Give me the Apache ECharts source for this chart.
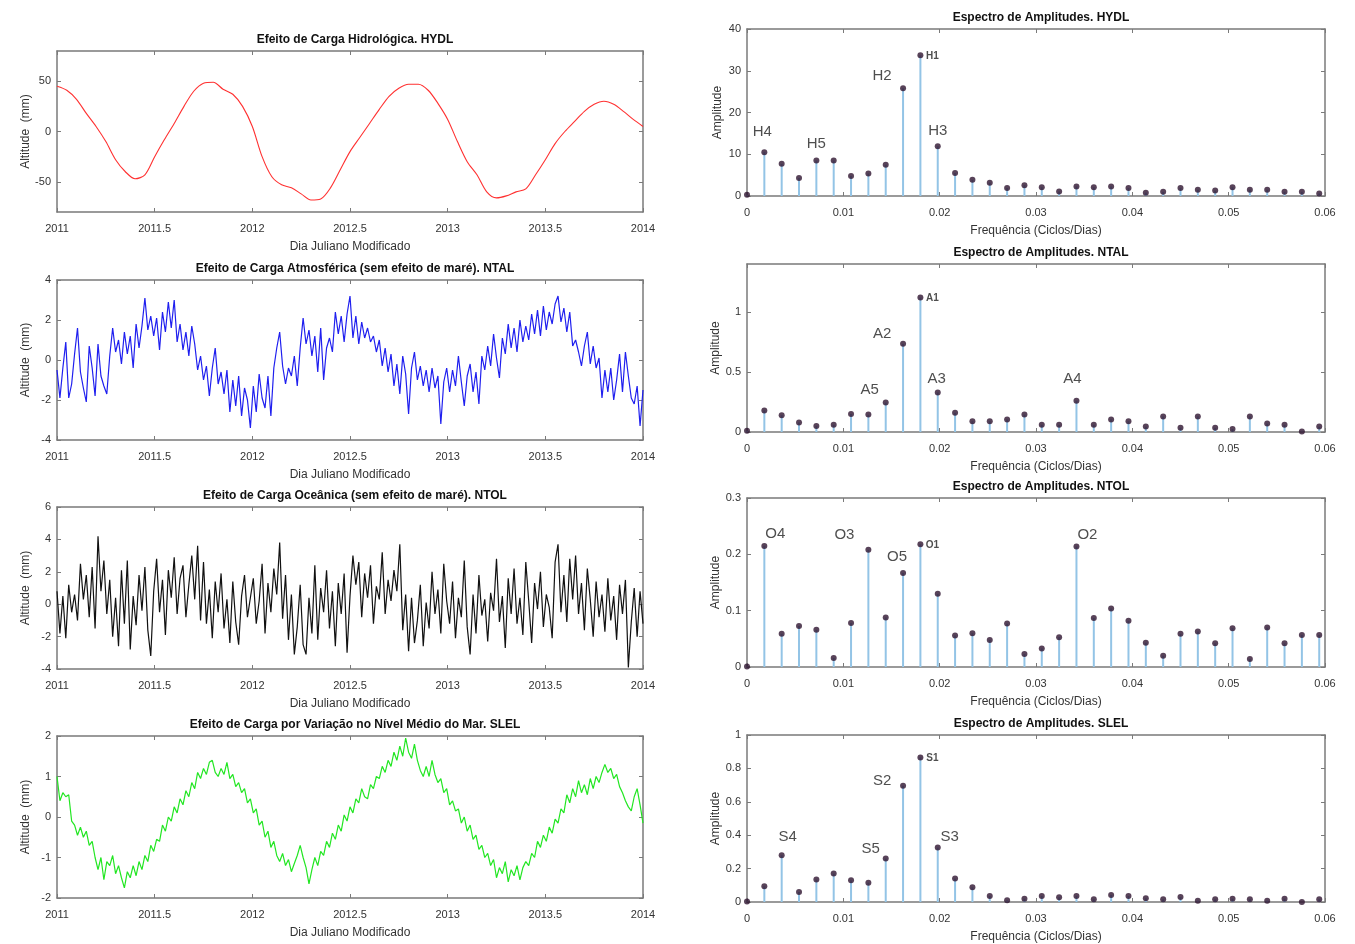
<!DOCTYPE html>
<html><head><meta charset="utf-8">
<script src="https://cdn.jsdelivr.net/npm/echarts@6/dist/echarts.min.js"></script>
<style>html,body{margin:0;padding:0;background:#fff}#c{width:1355px;height:944px}</style>
</head><body><div id="c"></div>
<script>
// ---------------- DATA ----------------
const leftTitles = ['Efeito de Carga Hidrológica. HYDL',
  'Efeito de Carga Atmosférica (sem efeito de maré). NTAL',
  'Efeito de Carga Oceânica (sem efeito de maré). NTOL',
  'Efeito de Carga por Variação no Nível Médio do Mar. SLEL'];
const rightTitles = ['Espectro de Amplitudes. HYDL','Espectro de Amplitudes. NTAL',
  'Espectro de Amplitudes. NTOL','Espectro de Amplitudes. SLEL'];
const yearTicks = [2011, 2011.5, 2012, 2012.5, 2013, 2013.5, 2014];

// time series: start year and sampling step
const hydlStart = 2011, hydlStep = 0.05;
const hydl = [45,41,32,18,5,-10,-28,-40,-47,-43,-25,-8,8,25,40,48,49,42,37,25,
  5,-25,-45,-53,-56,-62,-68,-67,-56,-38,-20,-6,8,22,35,43,47,47,41,28,
  12,-10,-30,-43,-60,-66,-64,-60,-57,-43,-28,-12,0,10,20,27,30,27,20,12,5];

const tsStart = 2011, tsStep = 0.015;
const ntal = [
-0.5,-1.9,-0.4,0.9,-1.9,-1.2,0.3,1.6,-0.6,-1.4,
-2.1,0.7,-0.4,-1.8,0.8,-0.8,-1.3,-1.7,0.2,1.6,
0.4,1.0,-0.2,1.4,0.3,1.2,-0.4,1.8,0.6,1.7,
3.1,1.5,2.2,1.2,2.1,0.5,2.4,1.4,2.9,1.6,
3.0,0.9,1.8,0.5,1.4,0.2,1.7,0.8,-0.5,0.2,
-1.0,-0.3,-1.8,-0.4,0.6,-1.2,-0.6,-1.7,-0.5,-2.6,
-1.0,-2.3,-0.8,-2.8,-1.4,-2.0,-3.4,-1.3,-2.6,-0.7,
-1.9,-2.4,-0.8,-2.8,-0.4,0.6,1.4,-0.3,-1.2,-0.4,
-0.8,0.2,-1.3,0.6,2.1,0.8,1.5,0.2,1.2,-0.6,
1.6,-1.0,0.6,1.1,0.4,2.4,1.3,2.2,0.9,2.3,
3.2,1.1,2.2,0.8,1.9,1.1,1.6,0.9,1.2,0.4,
1.0,-0.3,0.6,-0.6,0.3,-1.3,-0.2,-1.7,0.2,-0.7,
-2.7,-0.4,0.4,-1.0,-0.3,-1.3,-0.5,-1.6,-0.4,-1.4,
-0.8,-3.2,-1.1,-0.4,-1.6,-0.5,-1.3,0.2,-1.1,-2.3,
-0.8,-0.2,-1.6,-0.6,-2.2,0.2,-0.5,0.7,-0.3,1.3,
0.1,-0.9,1.1,0.3,1.8,0.6,1.6,0.4,2.0,0.9,
1.7,1.0,2.3,1.3,2.5,1.2,2.7,1.5,2.4,1.8,
2.8,3.2,1.9,2.6,1.4,2.4,0.7,1.0,0.4,-0.3,
0.7,1.4,-0.2,0.7,-0.4,0.1,-1.9,-0.5,-1.6,-0.4,
-2.0,-1.0,0.3,-1.6,0.4,-0.8,-1.9,-2.2,-1.3,-3.3,
-1.5];
const ntol = [
0.8,-1.8,0.5,-2.1,1.2,-0.5,0.6,-1.0,2.5,0.3,
1.8,-0.8,2.3,-1.5,4.2,0.8,2.7,-0.6,1.5,-2.0,
0.4,-2.6,2.1,-1.2,2.7,-2.8,0.5,-1.3,1.8,-0.4,
2.3,-1.6,-3.2,0.8,2.8,-0.5,1.5,-1.9,2.1,0.4,
2.9,-0.6,1.6,2.4,-0.8,1.2,3.0,0.3,3.6,-1.0,
2.6,-1.2,0.9,-2.1,1.4,-0.5,1.9,-1.5,0.3,-2.4,
1.4,-1.1,-2.5,0.5,1.8,-0.8,0.4,1.6,-1.2,0.2,
2.5,-1.8,1.3,-0.5,2.2,0.6,3.8,-0.9,1.8,-2.2,
0.6,-3.1,-1.4,1.2,-2.5,-3.1,0.4,-1.8,2.4,-2.2,
1.0,-0.5,2.1,-1.5,0.8,-2.6,1.3,-0.6,1.9,-3.0,
0.5,3.0,1.2,2.6,-0.8,1.9,0.4,2.4,-1.2,1.1,
0.3,3.2,-0.6,1.5,0.2,2.1,0.8,3.7,-1.6,0.6,
-2.9,0.4,-2.4,-1.0,1.2,-2.6,0.1,-1.5,2.0,-0.6,
0.9,-1.8,2.5,0.2,-1.2,1.4,-2.1,0.4,-0.8,2.7,
-1.4,-3.1,0.6,-1.8,1.8,-0.7,0.3,-2.3,0.7,-0.4,
2.8,-1.1,0.5,-2.7,1.6,-0.6,2.2,-1.2,0.4,-1.9,
2.6,0.2,-2.4,1.3,-0.3,2.0,-1.4,0.6,-0.2,-2.1,
2.6,3.7,-0.5,1.8,-1.1,2.8,0.3,3.0,-0.6,1.3,
-1.6,2.2,0.3,-2.0,1.4,-0.8,0.6,-1.7,1.6,-1.0,
0.5,-2.2,1.2,-0.6,1.5,-3.9,-1.1,1.0,-2.0,0.8,
-1.2];
const slel = [
1.0,0.4,0.6,0.5,0.55,-0.1,-0.2,-0.45,-0.25,-0.5,
-0.35,-0.7,-0.6,-1.0,-1.3,-1.0,-1.55,-1.1,-1.2,-0.95,
-1.4,-1.2,-1.5,-1.75,-1.35,-1.5,-1.2,-1.45,-1.1,-1.3,
-0.95,-1.1,-0.7,-0.85,-0.55,-0.6,-0.2,-0.35,0.0,-0.1,
0.25,0.1,0.45,0.3,0.65,0.5,0.85,0.7,1.1,0.95,
1.2,1.05,1.35,1.4,1.1,1.0,1.2,1.05,1.35,0.95,
1.05,0.75,0.85,0.6,0.7,0.35,0.45,0.1,0.2,-0.2,
-0.1,-0.5,-0.35,-0.75,-0.6,-0.95,-1.1,-0.9,-1.2,-1.05,
-1.35,-1.15,-0.95,-0.7,-1.0,-1.25,-1.65,-1.3,-1.0,-1.2,
-0.85,-0.95,-0.6,-0.75,-0.4,-0.55,-0.2,-0.35,0.05,-0.1,
0.25,0.1,0.45,0.35,0.7,0.5,0.45,0.8,0.7,1.0,
0.95,1.25,1.1,1.4,1.25,1.6,1.4,1.75,1.5,1.95,
1.6,1.45,1.8,1.4,1.15,1.0,1.25,1.0,1.4,1.05,
0.85,0.95,0.6,0.7,0.3,0.4,0.15,0.2,-0.15,0.0,
-0.35,-0.2,-0.55,-0.45,-0.8,-0.7,-1.0,-0.9,-1.2,-1.05,
-1.5,-1.25,-1.4,-1.1,-1.6,-1.3,-1.45,-1.2,-1.55,-1.25,
-1.1,-1.2,-0.9,-1.0,-0.6,-0.75,-0.45,-0.6,-0.25,-0.4,
-0.05,-0.15,0.2,0.1,0.55,0.35,0.7,0.5,0.9,0.6,
0.8,0.55,0.95,0.7,1.0,0.85,1.1,1.3,1.1,1.2,
0.95,1.05,0.75,0.6,0.4,0.25,0.15,0.5,0.7,0.3,
-0.15];

// spectra
const freqs = [0,0.0018,0.0036,0.0054,0.0072,0.009,0.0108,0.0126,0.0144,0.0162,0.018,0.0198,
  0.0216,0.0234,0.0252,0.027,0.0288,0.0306,0.0324,0.0342,0.036,0.0378,0.0396,0.0414,
  0.0432,0.045,0.0468,0.0486,0.0504,0.0522,0.054,0.0558,0.0576,0.0594];
const ampHydl = [0.3,10.5,7.7,4.3,8.5,8.5,4.8,5.4,7.5,25.8,33.7,11.9,5.5,3.9,3.2,1.9,2.6,2.1,1.1,2.3,
  2.1,2.3,1.9,0.8,1.0,1.9,1.5,1.3,2.1,1.5,1.5,1.0,1.0,0.6];
const ampNtal = [0.01,0.18,0.14,0.08,0.05,0.06,0.15,0.145,0.245,0.735,1.12,0.33,0.16,0.09,0.09,0.105,
  0.145,0.06,0.06,0.26,0.06,0.105,0.09,0.045,0.13,0.035,0.13,0.035,0.025,0.13,0.07,0.06,0.005,0.045];
const ampNtol = [0.001,0.215,0.059,0.073,0.066,0.016,0.078,0.208,0.088,0.167,0.218,0.13,0.056,0.06,
  0.048,0.077,0.023,0.033,0.053,0.214,0.087,0.104,0.082,0.043,0.02,0.059,0.063,0.042,0.069,0.014,
  0.07,0.042,0.057,0.057];
const ampSlel = [0.003,0.095,0.28,0.06,0.134,0.17,0.13,0.116,0.26,0.696,0.866,0.326,0.14,0.088,0.036,
  0.01,0.02,0.036,0.028,0.036,0.016,0.042,0.036,0.022,0.016,0.03,0.008,0.016,0.02,0.016,0.008,0.02,0,0.016];
const peakLabels = [
  {1:'H4',4:'H5',9:'H2',10:'H1',11:'H3'},
  {8:'A5',9:'A2',10:'A1',11:'A3',19:'A4'},
  {1:'O4',7:'O3',9:'O5',10:'O1',19:'O2'},
  {2:'S4',8:'S5',9:'S2',10:'S1',11:'S3'}];

// ---------------- STYLE / LAYOUT ----------------
const FF = 'Liberation Sans, Arial, sans-serif';
const AX = '#7a7a7a';
const leftGrids = [{top:51,h:161},{top:280,h:160},{top:507,h:162},{top:736,h:162}];
const rightGrids = [{top:29,h:167},{top:264,h:168},{top:498,h:169},{top:735,h:167}];
const L = {left:57, width:586}, R = {left:747, width:578};
const leftY = [
  {min:-80,max:80,custom:[-50,0,50]},
  {min:-4,max:4,interval:2},
  {min:-4,max:6,interval:2},
  {min:-2,max:2,interval:1}];
const rightY = [
  {min:0,max:40,interval:10},
  {min:0,max:1.4,custom:[0,0.5,1]},
  {min:0,max:0.3,interval:0.1},
  {min:0,max:1,interval:0.2}];
const lineColors = ['#ff3030','#1f1fef','#111111','#22e622'];
const lineWidths = [1.1, 1.2, 1.2, 1.2];
// label offsets (label centre relative to dot centre)
const labelOffsets = [
  {H4:[-2,-20],H5:[0,-17],H2:[-21,-12],H3:[0,-15],H1:[12,1]},
  {A5:[-16,-13],A2:[-21,-10],A3:[-1,-14],A4:[-4,-22],A1:[12,1]},
  {O4:[11,-12],O3:[-24,-15],O5:[-6,-16],O2:[11,-12],O1:[12,1]},
  {S4:[6,-18],S5:[-15,-10],S2:[-21,-5],S3:[12,-11],S1:[12,1]}];

const grids = [], xAxes = [], yAxes = [], series = [], titles = [];
const fmtNum = v => String(+v.toFixed(4));

function addAxes(g, xs, ys, xname, yname, yGap) {
  const lineS = {show:true, onZero:false, lineStyle:{color:AX, width:1.5}};
  const tickS = (custom) => Object.assign({show:true, inside:true, length:4, lineStyle:{color:AX}}, custom ? {customValues:custom} : {});
  const ylab = Object.assign({show:true, color:'#333', fontSize:11, fontFamily:FF, margin:6, formatter:fmtNum}, ys.custom ? {customValues:ys.custom} : {});
  const yBase = {type:'value', gridIndex:g, min:ys.min, max:ys.max, splitLine:{show:false}};
  if (ys.interval) yBase.interval = ys.interval;
  const xBase = {type:'value', gridIndex:g, min:xs.min, max:xs.max, interval:xs.interval, splitLine:{show:false}};
  xAxes.push(Object.assign({}, xBase, {position:'bottom', axisLine:lineS, axisTick:tickS(),
    axisLabel:{color:'#333', fontSize:11, fontFamily:FF, margin:11, formatter:xs.fmt, showMinLabel:true, showMaxLabel:true},
    name:xname, nameLocation:'middle', nameGap:xs.nameGap, nameTextStyle:{color:'#333', fontSize:12, fontFamily:FF}}));
  xAxes.push(Object.assign({}, xBase, {position:'top', axisLine:lineS, axisTick:tickS(), axisLabel:{show:false}}));
  yAxes.push(Object.assign({}, yBase, {position:'left', axisLine:lineS, axisTick:tickS(ys.custom), axisLabel:ylab,
    name:yname, nameLocation:'middle', nameGap:yGap, nameRotate:90, nameTextStyle:{color:'#333', fontSize:12, fontFamily:FF}}));
  yAxes.push(Object.assign({}, yBase, {position:'right', axisLine:lineS, axisTick:tickS(ys.custom), axisLabel:{show:false}}));
}

// left panels
const tsSeries = [hydl, ntal, ntol, slel];
leftGrids.forEach((lg, i) => {
  const g = grids.length;
  grids.push({left:L.left, width:L.width, top:lg.top, height:lg.h, containLabel:false});
  addAxes(g, {min:2011, max:2014, interval:0.5, fmt:fmtNum, nameGap:29}, leftY[i], 'Dia Juliano Modificado', 'Altitude  (mm)', 25);
  titles.push({text:leftTitles[i], left:350, top:lg.top - 22, textAlign:'center',
    textStyle:{fontSize:12, fontWeight:'bold', fontFamily:FF, color:'#111'}});
  const vals = tsSeries[i];
  const start = i === 0 ? hydlStart : tsStart, step = i === 0 ? hydlStep : tsStep;
  series.push({type:'line', xAxisIndex:2*g, yAxisIndex:2*g, showSymbol:false, smooth: i === 0 ? 0.3 : false,
    lineStyle:{color:lineColors[i], width:lineWidths[i]}, animation:false,
    data: vals.map((v, k) => [start + k*step, v])});
});

// right panels
const amps = [ampHydl, ampNtal, ampNtol, ampSlel];
rightGrids.forEach((rg, i) => {
  const g = grids.length;
  grids.push({left:R.left, width:R.width, top:rg.top, height:rg.h, containLabel:false});
  addAxes(g, {min:0, max:0.06, interval:0.01, fmt:fmtNum, nameGap:29}, rightY[i], 'Frequência (Ciclos/Dias)', 'Amplitude', 23);
  titles.push({text:rightTitles[i], left:1036, top:rg.top - 22, textAlign:'center',
    textStyle:{fontSize:12, fontWeight:'bold', fontFamily:FF, color:'#111'}});
  const a = amps[i];
  series.push({type:'bar', xAxisIndex:2*g, yAxisIndex:2*g, barWidth:2, animation:false,
    itemStyle:{color:'#93c4e6'}, data: freqs.map((f, k) => [f, a[k]])});
  const labs = peakLabels[i], offs = labelOffsets[i];
  series.push({type:'scatter', xAxisIndex:2*g, yAxisIndex:2*g, symbolSize:6, animation:false, z:5,
    itemStyle:{color:'#2e1430'},
    data: freqs.map((f, k) => {
      const d = {value:[f, a[k]]};
      if (labs[k]) {
        const small = k === 10;
        d.label = {show:true, formatter:labs[k], position:'inside', offset:offs[labs[k]],
          fontFamily:FF, color:'#222', fontSize: small ? 10 : 15, fontWeight: small ? 'bold' : 'normal'};
      }
      return d;
    })});
});

const chart = echarts.init(document.getElementById('c'), null, {renderer:'canvas'});
chart.setOption({backgroundColor:'#fff', animation:false, title:titles, grid:grids, xAxis:xAxes, yAxis:yAxes, series:series});
</script></body></html>
